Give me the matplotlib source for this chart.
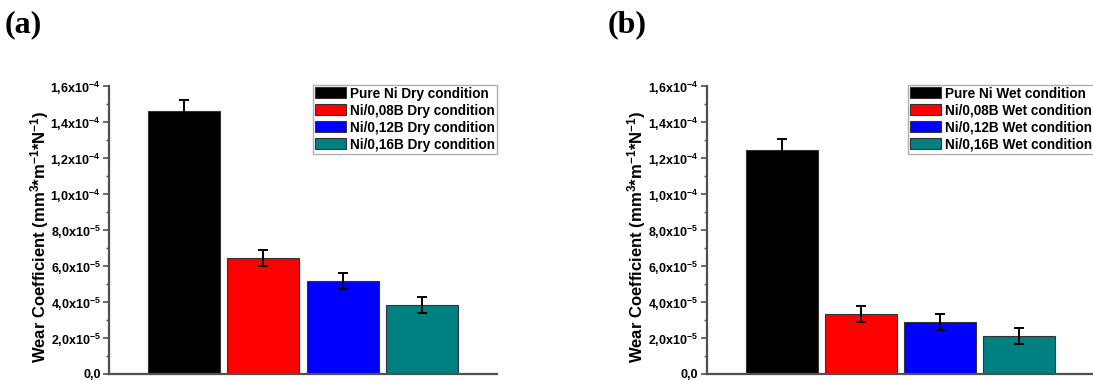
import matplotlib
matplotlib.use("Agg")
import matplotlib.pyplot as plt
from matplotlib.ticker import FuncFormatter, MultipleLocator

# Wear coefficients (mm^3 * m^-1 * N^-1) with standard deviations
samples = ["Pure Ni", "Ni/0,08B", "Ni/0,12B", "Ni/0,16B"]
colors = ["#000000", "#ff0000", "#0000ff", "#008080"]

dry_values = [1.46e-4, 6.45e-5, 5.16e-5, 3.82e-5]
dry_errors = [6.5e-6, 4.4e-6, 4.4e-6, 4.5e-6]

wet_values = [1.244e-4, 3.33e-5, 2.89e-5, 2.10e-5]
wet_errors = [6.4e-6, 4.6e-6, 4.5e-6, 4.6e-6]

panel_labels = ["(a)", "(b)"]
conditions = ["Dry condition", "Wet condition"]
y_label = "Wear Coefficient (mm$^{3}$*m$^{-1}$*N$^{-1}$)"

plt.rcParams["font.family"] = ["Liberation Sans", "DejaVu Sans"]
plt.rcParams["font.weight"] = "bold"
plt.rcParams["mathtext.fontset"] = "custom"
plt.rcParams["mathtext.rm"] = "Liberation Sans:bold"
plt.rcParams["mathtext.it"] = "Liberation Sans:bold"
plt.rcParams["mathtext.bf"] = "Liberation Sans:bold"
plt.rcParams["mathtext.sf"] = "Liberation Sans:bold"
plt.rcParams["mathtext.default"] = "rm"


def sci_comma(v, pos):
    """Format tick values as e.g. 1,6x10^-4 (decimal comma)."""
    if abs(v) < 1e-12:
        return "0,0"
    exp = 0
    m = v
    while abs(m) >= 10:
        m /= 10.0
        exp += 1
    while abs(m) < 1:
        m *= 10.0
        exp -= 1
    mant = f"{m:.1f}".replace(".", ",")
    return mant + "x10$^{" + f"{exp}" + "}$"


fig = plt.figure(figsize=(10.93, 3.80), dpi=100)
spine_color = "#505050"

axes_rects = [
    [109 / 1093, (380 - 374) / 380, 388 / 1093, 288 / 380],
    [706.5 / 1093, (380 - 374) / 380, 388 / 1093, 288 / 380],
]
ylabel_x = [40 / 1093, 637 / 1093]
panel_x = [5 / 1093, 608 / 1093]

for i, (vals, errs) in enumerate([(dry_values, dry_errors), (wet_values, wet_errors)]):
    ax = fig.add_axes(axes_rects[i])
    xs = list(range(1, len(samples) + 1))
    labels = [f"{s} {conditions[i]}" for s in samples]
    bars = ax.bar(xs, vals, width=0.908, color=colors, edgecolor="#333333",
                  linewidth=0.8, zorder=2)
    ax.errorbar(xs, vals, yerr=errs, fmt="none", ecolor="black",
                elinewidth=1.4, capsize=3.5, capthick=1.4, zorder=3)

    ax.set_xlim(0.05, 4.95)
    ax.set_ylim(0, 1.6e-4)
    ax.yaxis.set_major_locator(MultipleLocator(2e-5))
    ax.yaxis.set_minor_locator(MultipleLocator(1e-5))
    ax.yaxis.set_major_formatter(FuncFormatter(sci_comma))
    ax.set_xticks([])

    for side in ("top", "right"):
        ax.spines[side].set_visible(False)
    for side in ("left", "bottom"):
        ax.spines[side].set_color(spine_color)
        ax.spines[side].set_linewidth(1.6)
    ax.tick_params(axis="y", which="major", direction="out", length=4,
                   width=1.2, color=spine_color, labelsize=9.0, pad=2)
    ax.tick_params(axis="y", which="minor", direction="out", length=2.5,
                   width=1.0, color=spine_color)
    for t in ax.get_yticklabels():
        t.set_fontweight("bold")

    handles = [bars[k] for k in range(len(samples))]
    leg = ax.legend(handles, labels, loc="upper right", bbox_to_anchor=(1.0, 1.005),
                    borderaxespad=0.0, frameon=True, fancybox=False,
                    prop={"weight": "bold", "size": 9.8}, handlelength=2.3,
                    handleheight=0.85, handletextpad=0.3, labelspacing=0.22,
                    borderpad=0.15)
    leg.get_frame().set_edgecolor("#9a9a9a")
    leg.get_frame().set_linewidth(1.0)

    fig.text(ylabel_x[i], (380 - 237) / 380, y_label, rotation=90,
             ha="center", va="center", fontsize=12.0, fontweight="bold")
    fig.text(panel_x[i], (380 - 10) / 380, panel_labels[i], ha="left", va="top",
             fontsize=23, fontweight="bold", family="Liberation Serif")

fig.savefig("out.png", dpi=100)
